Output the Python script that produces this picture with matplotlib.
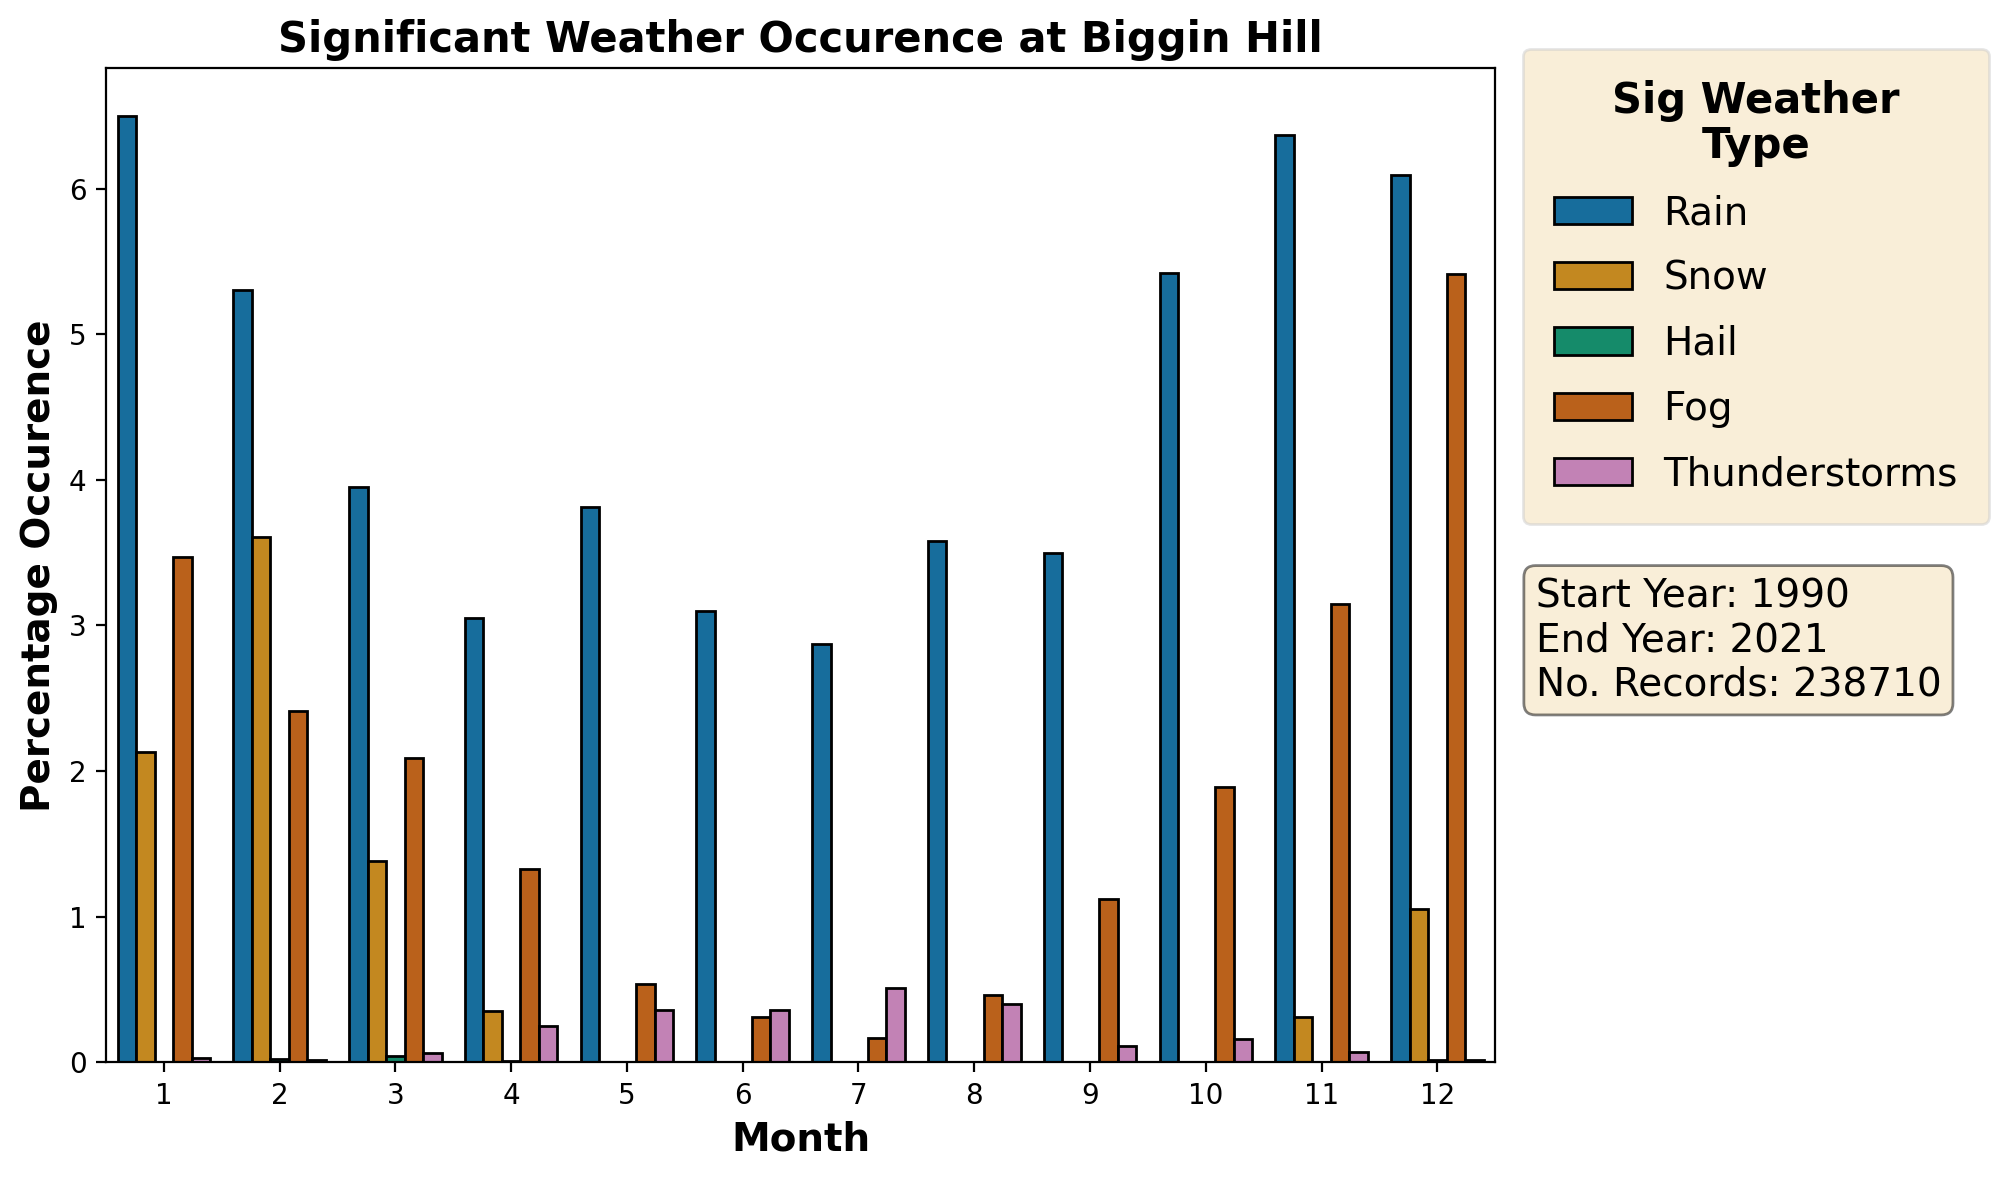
import numpy as np
import pandas as pd
import matplotlib
matplotlib.use("Agg")
import matplotlib.pyplot as plt
import seaborn as sns

# Monthly percentage occurrence of each significant weather type
months = [1, 2, 3, 4, 5, 6, 7, 8, 9, 10, 11, 12]
rain = [6.50, 5.30, 3.95, 3.05, 3.81, 3.10, 2.87, 3.58, 3.50, 5.42, 6.37, 6.09]
snow = [2.13, 3.61, 1.38, 0.35, 0.0, 0.0, 0.0, 0.0, 0.0, 0.003, 0.31, 1.05]
hail = [0.0, 0.02, 0.043, 0.01, 0.0, 0.0, 0.0, 0.0, 0.0, 0.005, 0.0, 0.018]
fog = [3.47, 2.41, 2.09, 1.33, 0.54, 0.31, 0.17, 0.46, 1.12, 1.89, 3.15, 5.41]
thunder = [0.03, 0.016, 0.064, 0.247, 0.36, 0.36, 0.51, 0.40, 0.11, 0.16, 0.07, 0.016]

weather_types = ["Rain", "Snow", "Hail", "Fog", "Thunderstorms"]
start_year = 1990
end_year = 2021
n_records = 238710

# long format for seaborn
series = [rain, snow, hail, fog, thunder]
rows = []
for wtype, vals in zip(weather_types, series):
    for m, v in zip(months, vals):
        rows.append({"Month": m, "Type": wtype, "Pct": v})
df = pd.DataFrame(rows)

fig = plt.figure(figsize=(9.995, 5.895), dpi=200)
ax = fig.add_axes([0.053, 0.099, 0.695, 0.843])

sns.barplot(data=df, x="Month", y="Pct", hue="Type", hue_order=weather_types,
            palette="colorblind", edgecolor="black", linewidth=1.0, ax=ax)

ax.set_title("Significant Weather Occurence at Biggin Hill", fontsize=15, fontweight="bold")
ax.set_xlabel("Month", fontsize=14, fontweight="bold")
ax.set_ylabel("Percentage Occurence", fontsize=14, fontweight="bold")

leg = ax.legend(title="Sig Weather\nType", loc="upper left", bbox_to_anchor=(1.02, 1.02),
                fontsize=14, title_fontproperties={"size": 15, "weight": "bold"},
                facecolor="wheat", framealpha=0.5, borderaxespad=0,
                borderpad=0.8, labelspacing=0.7)
leg.get_title().set_multialignment("center")
leg.get_title().set_linespacing(1.1)

info = f"Start Year: {start_year}\nEnd Year: {end_year}\nNo. Records: {n_records}"
ax.text(1.029, 0.488, info, transform=ax.transAxes, fontsize=14, va="top", ha="left",
        bbox=dict(boxstyle="round", facecolor="wheat", alpha=0.5))

fig.savefig("out.png", dpi=200)
